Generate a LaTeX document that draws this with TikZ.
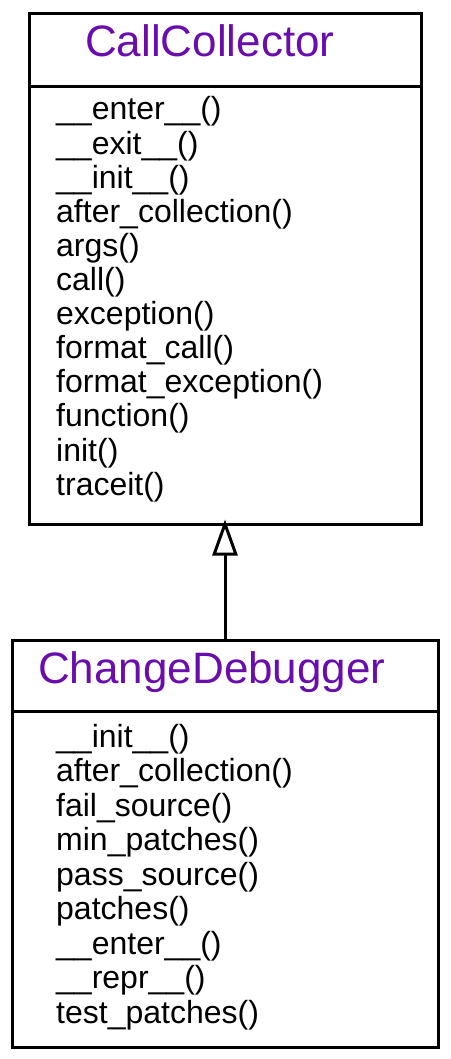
\documentclass[tikz,border=0pt]{standalone}
\usepackage{fontspec}
\setmainfont{Liberation Sans}
\usetikzlibrary{arrows.meta}
\definecolor{titlepurple}{RGB}{106,13,173}
\tikzset{
  classbox/.style={draw=black, line width=3pt, fill=none, inner sep=0pt},
  divider/.style={draw=black, line width=3pt},
  classtitle/.style={anchor=base west, inner sep=0pt, text=titlepurple, font=\fontsize{44}{50}\selectfont},
  method/.style={anchor=base west, inner sep=0pt, text=black, font=\fontsize{32}{36}\selectfont},
  inherit/.style={line width=3pt, shorten >=-6pt, -{Triangle[open, length=36pt, width=25pt, line width=3pt]}}
}
\begin{document}
\begin{tikzpicture}[x=1pt, y=-1pt]
\useasboundingbox (0,0) rectangle (450,1059);
% CallCollector
\node[classbox, minimum width=392pt, minimum height=510pt] (cc) at (225,269) {};
\coordinate (ccdl) at (29,87);
\coordinate (ccdr) at (421,87);
\draw[divider] (ccdl) -- (ccdr);
\node[classtitle] (cct) at (85,57) {CallCollector};
\foreach \t [count=\i from 0] in {\_\_enter\_\_(), \_\_exit\_\_(), \_\_init\_\_(), after\_collection(), args(), call(), exception(), format\_call(), format\_exception(), function(), init(), traceit()} {
  \node[method] (ccm\i) at (56,{120+\i*34.1}) {\t};
}
% ChangeDebugger
\node[classbox, minimum width=426pt, minimum height=407pt] (cd) at (225,843.5) {};
\coordinate (cddl) at (12,711);
\coordinate (cddr) at (438,711);
\draw[divider] (cddl) -- (cddr);
\node[classtitle] (cdt) at (38,683) {ChangeDebugger};
\foreach \t [count=\i from 0] in {\_\_init\_\_(), after\_collection(), fail\_source(), min\_patches(), pass\_source(), patches(), \_\_enter\_\_(), \_\_repr\_\_(), test\_patches()} {
  \node[method] (cdm\i) at (56,{747+\i*34.5}) {\t};
}
% inheritance
\draw[inherit] (cd.north) -- (cc.south);
\end{tikzpicture}
\end{document}
